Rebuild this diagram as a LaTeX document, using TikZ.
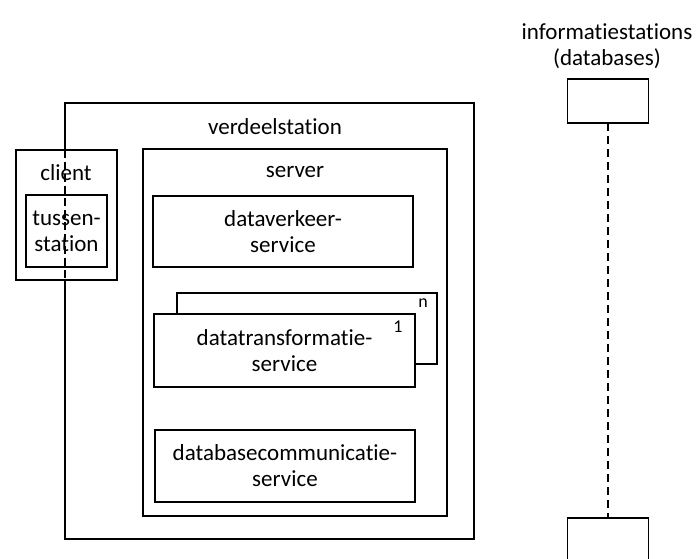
\documentclass[tikz,border=0pt]{standalone}
\usepackage{fontspec}
\setmainfont{Carlito}[Ligatures=NoCommon]
\begin{document}
\begin{tikzpicture}[x=1pt,y=-1pt,
  every node/.style={font=\fontsize{23}{26}\selectfont, inner sep=0pt, outer sep=0pt},
  box/.style={draw, line width=1.6pt, fill=white, align=center, anchor=center},
  lbl/.style={align=center},
  idx/.style={font=\fontsize{18}{20}\selectfont},
  link/.style={line width=2pt, dash pattern=on 8pt off 5pt}
]
\useasboundingbox (0,0) rectangle (697,558);
\clip (0,0) rectangle (697,558);

% verdeelstation frame (outline drawn separately, left edge is interrupted)
\node[minimum width=409pt, minimum height=436pt] (ver) at (269.5,321) {};
\node[lbl] (verlbl) at (275,127) {verdeelstation};

% server and its services
\node[box, minimum width=304pt, minimum height=367pt] (srv) at (295,332.5) {};
\node[lbl] (srvlbl) at (295,172) {server};
\node[box, minimum width=260pt, minimum height=71pt] (dv) at (283,231.5) {dataverkeer-\\service};
\node[box, minimum width=260pt, minimum height=71pt] (dtn) at (307,328.5) {};
\node[box, minimum width=261pt, minimum height=73pt] (dt) at (284.5,350.5) {datatransformatie-\\service};
\node[idx] (n) at (423,303) {n};
\node[idx] (one) at (398,327) {1};
\node[box, minimum width=260pt, minimum height=72pt] (dbc) at (285,466) {databasecommunicatie-\\service};

% client with tussenstation
\node[box, minimum width=101pt, minimum height=130pt] (cl) at (66.5,215) {};
\node[lbl] (cllbl) at (66,173) {client};
\node[box, minimum width=81pt, minimum height=72pt] (ts) at (66.5,231) {tussen-\\station};

\coordinate (vtop) at (ver.west |- cl.north);
\coordinate (vbot) at (ver.west |- cl.south);
\draw[line width=1.6pt] (vtop) -- (ver.north west) -- (ver.north east)
  -- (ver.south east) -- (ver.south west) -- (vbot);
\draw[link, dash pattern=on 8pt off 4pt] (vtop) -- (vbot);

% informatiestations
\node[lbl] (info) at (607,46) {informatiestations\\(databases)};
\node[box, minimum width=81pt, minimum height=44pt] (db1) at (608,101) {};
\node[box, minimum width=81pt, minimum height=60pt] (db2) at (608,548) {};
\draw[link] (db1.south) -- (db2.north);
\end{tikzpicture}
\end{document}
